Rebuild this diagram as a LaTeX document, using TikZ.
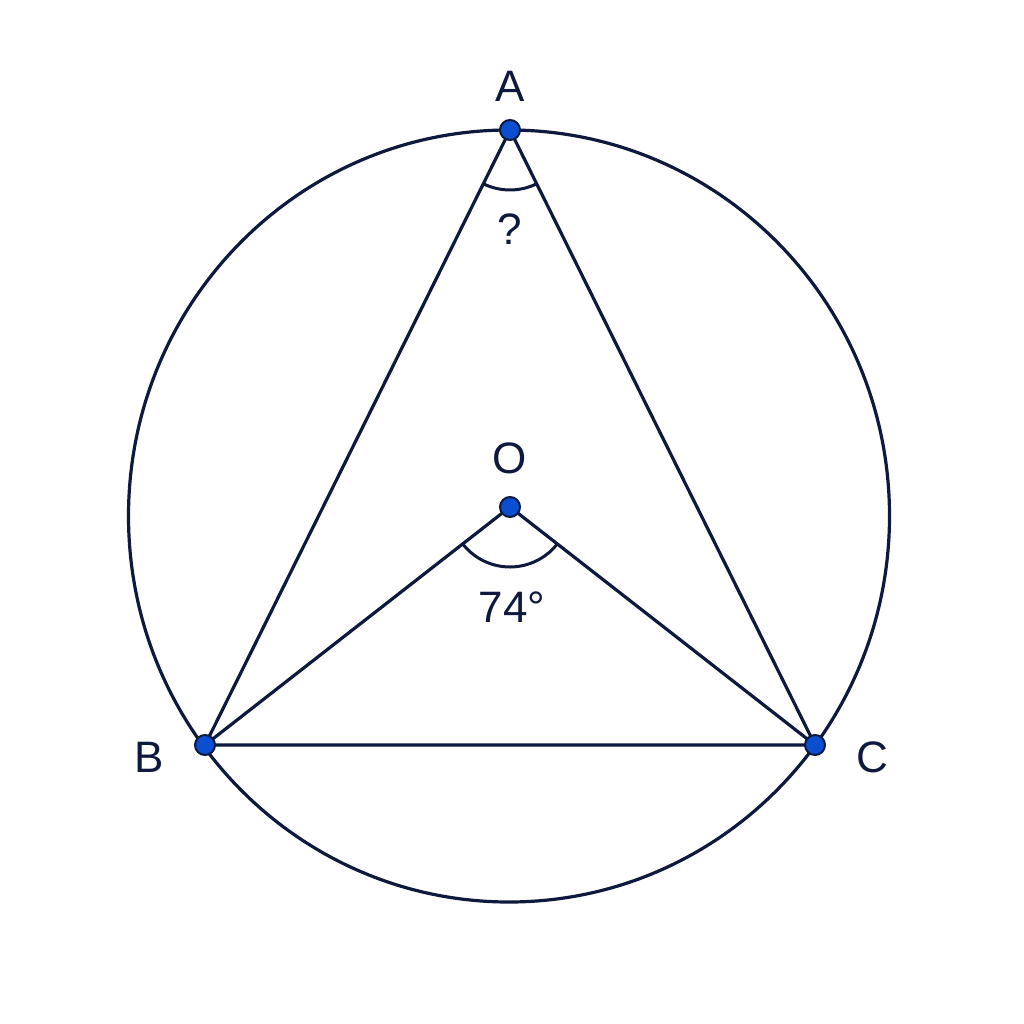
\documentclass[tikz,border=0pt]{standalone}
\usepackage{fontspec}
\setmainfont{Liberation Sans}
\usetikzlibrary{angles}
\definecolor{ink}{HTML}{0D1A3D}
\definecolor{dotblue}{HTML}{0B4FD0}
\tikzset{
  geo/.style={draw=ink, line width=3.2pt},
  ptdot/.style={circle, fill=dotblue, draw=ink, line width=2pt, minimum size=20pt, inner sep=0pt},
  lbl/.style={text=ink, font=\fontsize{44}{48}\selectfont, inner sep=0pt},
  angarc/.style={draw=ink, line width=3pt, angle radius=60pt}
}
\begin{document}
\begin{tikzpicture}[x=1pt, y=-1pt]
\fill[white] (0,0) rectangle (1024,1024);
\useasboundingbox (0,0) rectangle (1024,1024);
\coordinate (A) at (510,130);
\coordinate (B) at (205,745);
\coordinate (C) at (815,745);
\coordinate (O) at (510,507);
\coordinate (Ctr) at (509,516);
\draw[geo] (Ctr) ellipse [x radius=380.5, y radius=386];
\draw[geo] (A) -- (B) -- (C) -- cycle;
\draw[geo] (B) -- (O) -- (C);
\pic[angarc] {angle=B--A--C};
\pic[angarc] {angle=B--O--C};
\node[ptdot] (dA) at (A) {};
\node[ptdot] (dB) at (B) {};
\node[ptdot] (dC) at (C) {};
\node[ptdot] (dO) at (O) {};
\node[lbl] (lA) at (510,86) {A};
\node[lbl] (lB) at (149,757) {B};
\node[lbl] (lC) at (872,757) {C};
\node[lbl] (lO) at (510,458) {O};
\node[lbl] (q) at (510,229) {?};
\node[lbl] (ang) at (512,607) {74°};
\end{tikzpicture}
\end{document}
